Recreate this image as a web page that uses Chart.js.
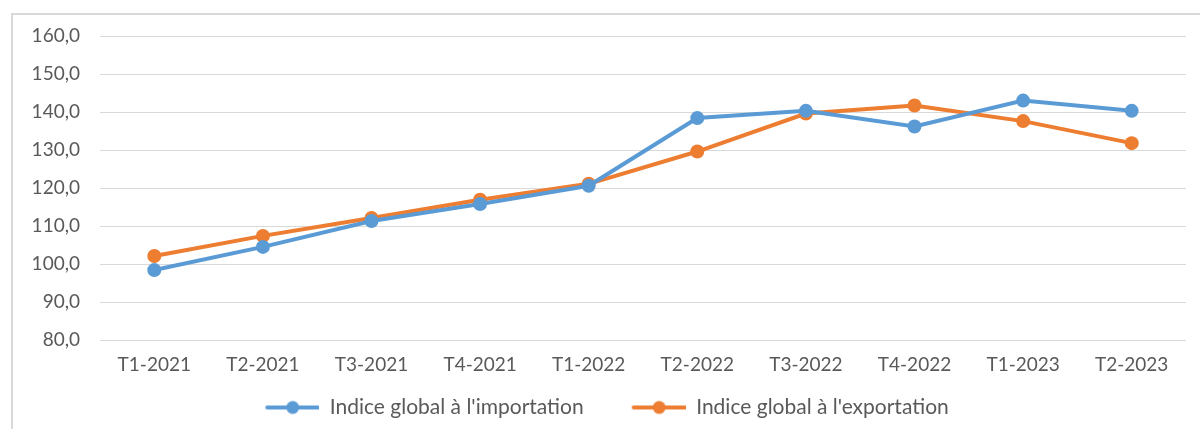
<!DOCTYPE html>
<html>
<head>
<meta charset="utf-8">
<script src="https://cdn.jsdelivr.net/npm/chart.js@4/dist/chart.umd.min.js"></script>
<style>
  html, body { margin: 0; padding: 0; background: #fff; }
  canvas { display: block; }
</style>
</head>
<body>
<canvas id="indexChart" width="1200" height="429"></canvas>
<script>
const quarters = ['T1-2021', 'T2-2021', 'T3-2021', 'T4-2021', 'T1-2022',
                  'T2-2022', 'T3-2022', 'T4-2022', 'T1-2023', 'T2-2023'];
const importIndex = [98.4, 104.5, 111.3, 115.8, 120.6, 138.4, 140.3, 136.2, 143.0, 140.3];
const exportIndex = [102.1, 107.4, 112.1, 116.9, 121.1, 129.6, 139.6, 141.7, 137.6, 131.8];

const blue = '#5B9BD5';
const orange = '#ED7D31';
const textGray = '#595959';

// line + dot marker for the legend, blank space on the left to widen the gap between items
function legendMarker(color) {
    const c = document.createElement('canvas');
    c.width = 82; c.height = 16;
    const g = c.getContext('2d');
    g.strokeStyle = color;
    g.lineWidth = 4;
    g.lineCap = 'round';
    g.beginPath(); g.moveTo(30, 8); g.lineTo(81, 8); g.stroke();
    g.fillStyle = color;
    g.beginPath(); g.arc(55.5, 8, 6.5, 0, Math.PI * 2); g.fill();
    return c;
}

const frame = {
    id: 'frame',
    beforeDraw(chart) {
        const ctx = chart.ctx;
        ctx.save();
        ctx.strokeStyle = '#d9d9d9';
        ctx.lineWidth = 2;
        ctx.beginPath();
        ctx.moveTo(12, 429);
        ctx.lineTo(12, 14);
        ctx.lineTo(1200, 14);
        ctx.stroke();
        ctx.restore();
    }
};

const ctx = document.getElementById('indexChart').getContext('2d');
new Chart(ctx, {
    type: 'line',
    data: {
        labels: quarters,
        datasets: [{
            label: "Indice global à l'importation",
            data: importIndex,
            borderColor: blue,
            backgroundColor: blue,
            pointBackgroundColor: blue,
            borderWidth: 4,
            pointRadius: 7,
            pointBorderWidth: 0,
            tension: 0,
            fill: false
        }, {
            label: "Indice global à l'exportation",
            data: exportIndex,
            borderColor: orange,
            backgroundColor: orange,
            pointBackgroundColor: orange,
            borderWidth: 4,
            pointRadius: 7,
            pointBorderWidth: 0,
            tension: 0,
            fill: false
        }]
    },
    options: {
        responsive: false,
        animation: false,
        devicePixelRatio: 1,
        layout: { padding: { top: 36, right: 14, left: 0, bottom: 1 } },
        scales: {
            x: {
                offset: true,
                afterFit: s => { s.height = 37; },
                grid: { display: false, drawTicks: false },
                border: { display: false },
                ticks: {
                    color: textGray,
                    padding: 13,
                    maxRotation: 0,
                    font: { family: 'Lato', size: 19 }
                }
            },
            y: {
                min: 80,
                max: 160,
                afterFit: s => { s.width = 100; },
                grid: { color: '#d9d9d9', lineWidth: 1, drawTicks: false },
                border: { display: false },
                ticks: {
                    stepSize: 10,
                    color: textGray,
                    padding: 20,
                    font: { family: 'Lato', size: 19 },
                    callback: v => v.toFixed(1).replace('.', ',')
                }
            }
        },
        plugins: {
            tooltip: { enabled: false },
            legend: {
                position: 'bottom',
                labels: {
                    color: textGray,
                    font: { family: 'Lato', size: 21 },
                    usePointStyle: true,
                    pointStyleWidth: 82,
                    padding: 20,
                    generateLabels: chart => chart.data.datasets.map((ds, i) => ({
                        text: ds.label,
                        fontColor: textGray,
                        pointStyle: legendMarker(ds.borderColor),
                        fillStyle: ds.borderColor,
                        strokeStyle: ds.borderColor,
                        lineWidth: 0,
                        datasetIndex: i
                    }))
                }
            }
        }
    },
    plugins: [frame]
});
</script>
</body>
</html>
